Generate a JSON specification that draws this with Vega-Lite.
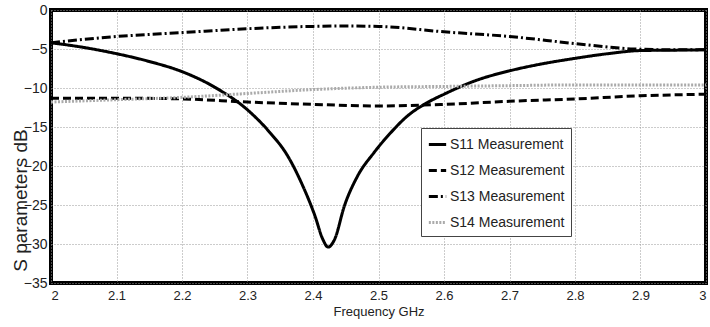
{
  "$schema": "https://vega.github.io/schema/vega-lite/v6.json",
  "width": 655,
  "height": 273,
  "autosize": {"type": "none"},
  "padding": {"left": 51, "top": 10, "right": 4, "bottom": 44},
  "background": "white",
  "config": {
    "font": "Liberation Sans",
    "view": {"stroke": "black", "strokeWidth": 4},
    "axis": {
      "domain": false,
      "ticks": false,
      "grid": true,
      "gridColor": "#999",
      "gridDash": [1, 2],
      "gridWidth": 1,
      "labelColor": "#222",
      "titleColor": "#222",
      "titleFontWeight": "normal",
      "labelFont": "Liberation Sans",
      "titleFont": "Liberation Sans"
    }
  },
  "data": {
    "values": [
      {"f": 2.0, "series": "S11 Measurement", "v": -4.2},
      {"f": 2.05, "series": "S11 Measurement", "v": -4.8},
      {"f": 2.1, "series": "S11 Measurement", "v": -5.6},
      {"f": 2.15, "series": "S11 Measurement", "v": -6.6},
      {"f": 2.2, "series": "S11 Measurement", "v": -7.9},
      {"f": 2.25, "series": "S11 Measurement", "v": -9.9},
      {"f": 2.302, "series": "S11 Measurement", "v": -12.95},
      {"f": 2.332, "series": "S11 Measurement", "v": -15.5},
      {"f": 2.362, "series": "S11 Measurement", "v": -18.8},
      {"f": 2.382, "series": "S11 Measurement", "v": -22.1},
      {"f": 2.403, "series": "S11 Measurement", "v": -26.4},
      {"f": 2.415, "series": "S11 Measurement", "v": -29.4},
      {"f": 2.423, "series": "S11 Measurement", "v": -30.4},
      {"f": 2.433, "series": "S11 Measurement", "v": -29.4},
      {"f": 2.448, "series": "S11 Measurement", "v": -25.1},
      {"f": 2.468, "series": "S11 Measurement", "v": -21.3},
      {"f": 2.493, "series": "S11 Measurement", "v": -18.3},
      {"f": 2.519, "series": "S11 Measurement", "v": -15.7},
      {"f": 2.544, "series": "S11 Measurement", "v": -13.6},
      {"f": 2.574, "series": "S11 Measurement", "v": -11.9},
      {"f": 2.6, "series": "S11 Measurement", "v": -10.8},
      {"f": 2.65, "series": "S11 Measurement", "v": -9.0},
      {"f": 2.7, "series": "S11 Measurement", "v": -7.8},
      {"f": 2.75, "series": "S11 Measurement", "v": -6.9},
      {"f": 2.8, "series": "S11 Measurement", "v": -6.2},
      {"f": 2.85, "series": "S11 Measurement", "v": -5.6},
      {"f": 2.9, "series": "S11 Measurement", "v": -5.2},
      {"f": 2.95, "series": "S11 Measurement", "v": -5.15},
      {"f": 3.0, "series": "S11 Measurement", "v": -5.1},

      {"f": 2.0, "series": "S12 Measurement", "v": -11.3},
      {"f": 2.1, "series": "S12 Measurement", "v": -11.3},
      {"f": 2.2, "series": "S12 Measurement", "v": -11.4},
      {"f": 2.3, "series": "S12 Measurement", "v": -11.8},
      {"f": 2.4, "series": "S12 Measurement", "v": -12.1},
      {"f": 2.5, "series": "S12 Measurement", "v": -12.3},
      {"f": 2.6, "series": "S12 Measurement", "v": -12.1},
      {"f": 2.7, "series": "S12 Measurement", "v": -11.7},
      {"f": 2.8, "series": "S12 Measurement", "v": -11.4},
      {"f": 2.9, "series": "S12 Measurement", "v": -11.0},
      {"f": 3.0, "series": "S12 Measurement", "v": -10.8},

      {"f": 2.0, "series": "S13 Measurement", "v": -4.2},
      {"f": 2.1, "series": "S13 Measurement", "v": -3.4},
      {"f": 2.2, "series": "S13 Measurement", "v": -2.9},
      {"f": 2.3, "series": "S13 Measurement", "v": -2.4},
      {"f": 2.4, "series": "S13 Measurement", "v": -2.1},
      {"f": 2.45, "series": "S13 Measurement", "v": -2.05},
      {"f": 2.5, "series": "S13 Measurement", "v": -2.1},
      {"f": 2.6, "series": "S13 Measurement", "v": -2.8},
      {"f": 2.7, "series": "S13 Measurement", "v": -3.4},
      {"f": 2.8, "series": "S13 Measurement", "v": -4.3},
      {"f": 2.89, "series": "S13 Measurement", "v": -5.0},
      {"f": 2.95, "series": "S13 Measurement", "v": -5.1},
      {"f": 3.0, "series": "S13 Measurement", "v": -5.1},

      {"f": 2.0, "series": "S14 Measurement", "v": -11.8},
      {"f": 2.1, "series": "S14 Measurement", "v": -11.5},
      {"f": 2.2, "series": "S14 Measurement", "v": -11.2},
      {"f": 2.3, "series": "S14 Measurement", "v": -10.7},
      {"f": 2.4, "series": "S14 Measurement", "v": -10.2},
      {"f": 2.5, "series": "S14 Measurement", "v": -9.9},
      {"f": 2.6, "series": "S14 Measurement", "v": -9.8},
      {"f": 2.7, "series": "S14 Measurement", "v": -9.7},
      {"f": 2.8, "series": "S14 Measurement", "v": -9.6},
      {"f": 2.9, "series": "S14 Measurement", "v": -9.6},
      {"f": 3.0, "series": "S14 Measurement", "v": -9.6}
    ]
  },
  "mark": {"type": "line", "strokeWidth": 3, "interpolate": "monotone", "clip": true},
  "encoding": {
    "x": {
      "field": "f",
      "type": "quantitative",
      "scale": {"domain": [2, 3], "nice": false, "zero": false},
      "axis": {
        "values": [2, 2.1, 2.2, 2.3, 2.4, 2.5, 2.6, 2.7, 2.8, 2.9, 3],
        "format": "~g",
        "title": "Frequency GHz",
        "labelFontSize": 13,
        "titleFontSize": 13,
        "labelPadding": 6,
        "titlePadding": 3
      }
    },
    "y": {
      "field": "v",
      "type": "quantitative",
      "scale": {"domain": [-35, 0], "nice": false, "zero": false},
      "axis": {
        "values": [-35, -30, -25, -20, -15, -10, -5, 0],
        "title": "S parameters dB",
        "labelFontSize": 14,
        "titleFontSize": 19,
        "labelPadding": 4,
        "titleY": 190,
        "titleX": -21
      }
    },
    "color": {
      "field": "series",
      "type": "nominal",
      "scale": {
        "domain": ["S11 Measurement", "S12 Measurement", "S13 Measurement", "S14 Measurement"],
        "range": ["#000000", "#000000", "#000000", "#aaaaaa"]
      },
      "legend": {
        "title": null,
        "orient": "none",
        "legendX": 370,
        "legendY": 118,
        "fillColor": "white",
        "strokeColor": "#444",
        "padding": 6,
        "symbolType": "stroke",
        "symbolSize": 300,
        "symbolStrokeWidth": 3,
        "labelFontSize": 14,
        "labelColor": "#222",
        "rowPadding": 8,
        "labelOffset": 2
      }
    },
    "strokeDash": {
      "field": "series",
      "type": "nominal",
      "scale": {
        "domain": ["S11 Measurement", "S12 Measurement", "S13 Measurement", "S14 Measurement"],
        "range": [[1, 0], [8, 4], [9, 3, 2, 3], [2, 1.5]]
      },
      "legend": {
        "title": null,
        "orient": "none",
        "legendX": 370,
        "legendY": 118,
        "fillColor": "white",
        "strokeColor": "#444",
        "padding": 6,
        "symbolType": "stroke",
        "symbolSize": 300,
        "symbolStrokeWidth": 3,
        "labelFontSize": 14,
        "labelColor": "#222",
        "rowPadding": 8,
        "labelOffset": 2
      }
    }
  }
}
